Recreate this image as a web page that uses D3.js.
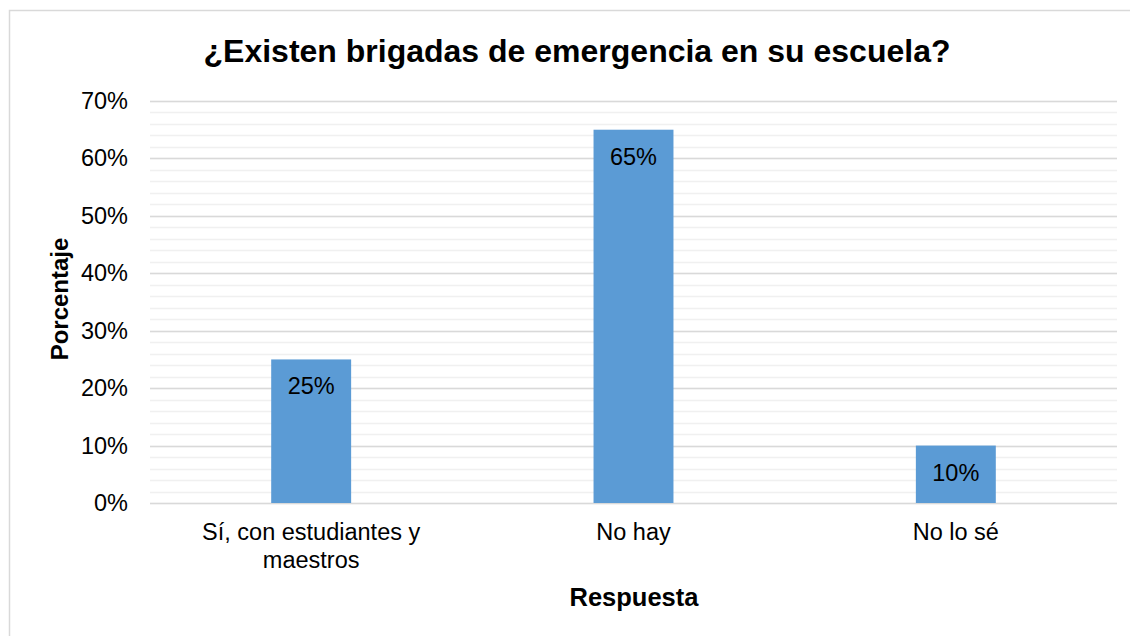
<!DOCTYPE html>
<html><head><meta charset="utf-8">
<script src="https://cdn.jsdelivr.net/npm/d3@7"></script>
<style>body{margin:0;background:#fff}svg{display:block}text{font-family:"Liberation Sans",Arial,sans-serif}</style>
</head><body>
<script>
const categories = ["Sí, con estudiantes y|maestros", "No hay", "No lo sé"];
const values = [0.25, 0.65, 0.10];
const yTicks = [0, 0.1, 0.2, 0.3, 0.4, 0.5, 0.6, 0.7];
const minorTicks = d3.range(0, 0.7001, 0.02);

const W = 1130, H = 636;
const svg = d3.select("body").append("svg").attr("width", W).attr("height", H);
svg.append("rect").attr("x", 9.5).attr("y", 10.5).attr("width", W + 10).attr("height", H + 10)
  .attr("fill", "#fff").attr("stroke", "#d9d9d9").attr("stroke-width", 1.5);

const L = 150, R = 1117, T = 101, B = 503;
const x = d3.scaleBand().domain(categories).range([L, R]).paddingInner(0.752).paddingOuter(0.376);
const y = d3.scaleLinear().domain([0, 0.7]).range([B, T]);

svg.append("g").selectAll("line").data(minorTicks).join("line")
  .attr("x1", L).attr("x2", R).attr("y1", d => Math.round(y(d)) + 0.5).attr("y2", d => Math.round(y(d)) + 0.5)
  .attr("stroke", "#f0f0f0").attr("stroke-width", 1.5);
svg.append("g").selectAll("line").data(yTicks).join("line")
  .attr("x1", L).attr("x2", R).attr("y1", d => Math.round(y(d)) + 0.5).attr("y2", d => Math.round(y(d)) + 0.5)
  .attr("stroke", "#d9d9d9").attr("stroke-width", 1.5);

const yAxis = svg.append("g").attr("transform", `translate(${L},0)`)
  .call(d3.axisLeft(y).tickValues(yTicks).tickFormat(d3.format(".0%")).tickSize(0).tickPadding(22));
yAxis.select(".domain").remove();
yAxis.selectAll("text").attr("font-size", 23.5).attr("fill", "#000").attr("font-family", "Liberation Sans, Arial, sans-serif");

svg.append("g").selectAll("rect").data(values).join("rect")
  .attr("x", (d, i) => x(categories[i])).attr("width", x.bandwidth())
  .attr("y", d => y(d)).attr("height", d => B - y(d))
  .attr("fill", "#5b9bd5");

svg.append("g").selectAll("text").data(values).join("text")
  .attr("x", (d, i) => x(categories[i]) + x.bandwidth() / 2)
  .attr("y", d => y(d) + 35)
  .attr("text-anchor", "middle").attr("font-size", 23.5).attr("fill", "#000")
  .text(d => d3.format(".0%")(d));

const xAxis = svg.append("g").attr("transform", `translate(0,${B})`)
  .call(d3.axisBottom(x).tickSize(0).tickFormat(""));
xAxis.select(".domain").remove();
xAxis.selectAll(".tick").each(function(d) {
  const lines = d.split("|");
  const t = d3.select(this).append("text").attr("text-anchor", "middle").attr("font-size", 23.5).attr("fill", "#000")
    .attr("font-family", "Liberation Sans, Arial, sans-serif");
  lines.forEach((ln, i) => t.append("tspan").attr("x", 0).attr("y", 37 + i * 28).text(ln));
});

svg.append("text").attr("x", 577).attr("y", 62).attr("text-anchor", "middle")
  .attr("font-size", 32).attr("font-weight", "bold").attr("fill", "#000")
  .text("¿Existen brigadas de emergencia en su escuela?");
svg.append("text").attr("transform", "translate(68,299) rotate(-90)").attr("text-anchor", "middle")
  .attr("font-size", 24).attr("font-weight", "bold").attr("fill", "#000").text("Porcentaje");
svg.append("text").attr("x", 634).attr("y", 606).attr("text-anchor", "middle")
  .attr("font-size", 25.5).attr("font-weight", "bold").attr("fill", "#000").text("Respuesta");
</script>
</body></html>
